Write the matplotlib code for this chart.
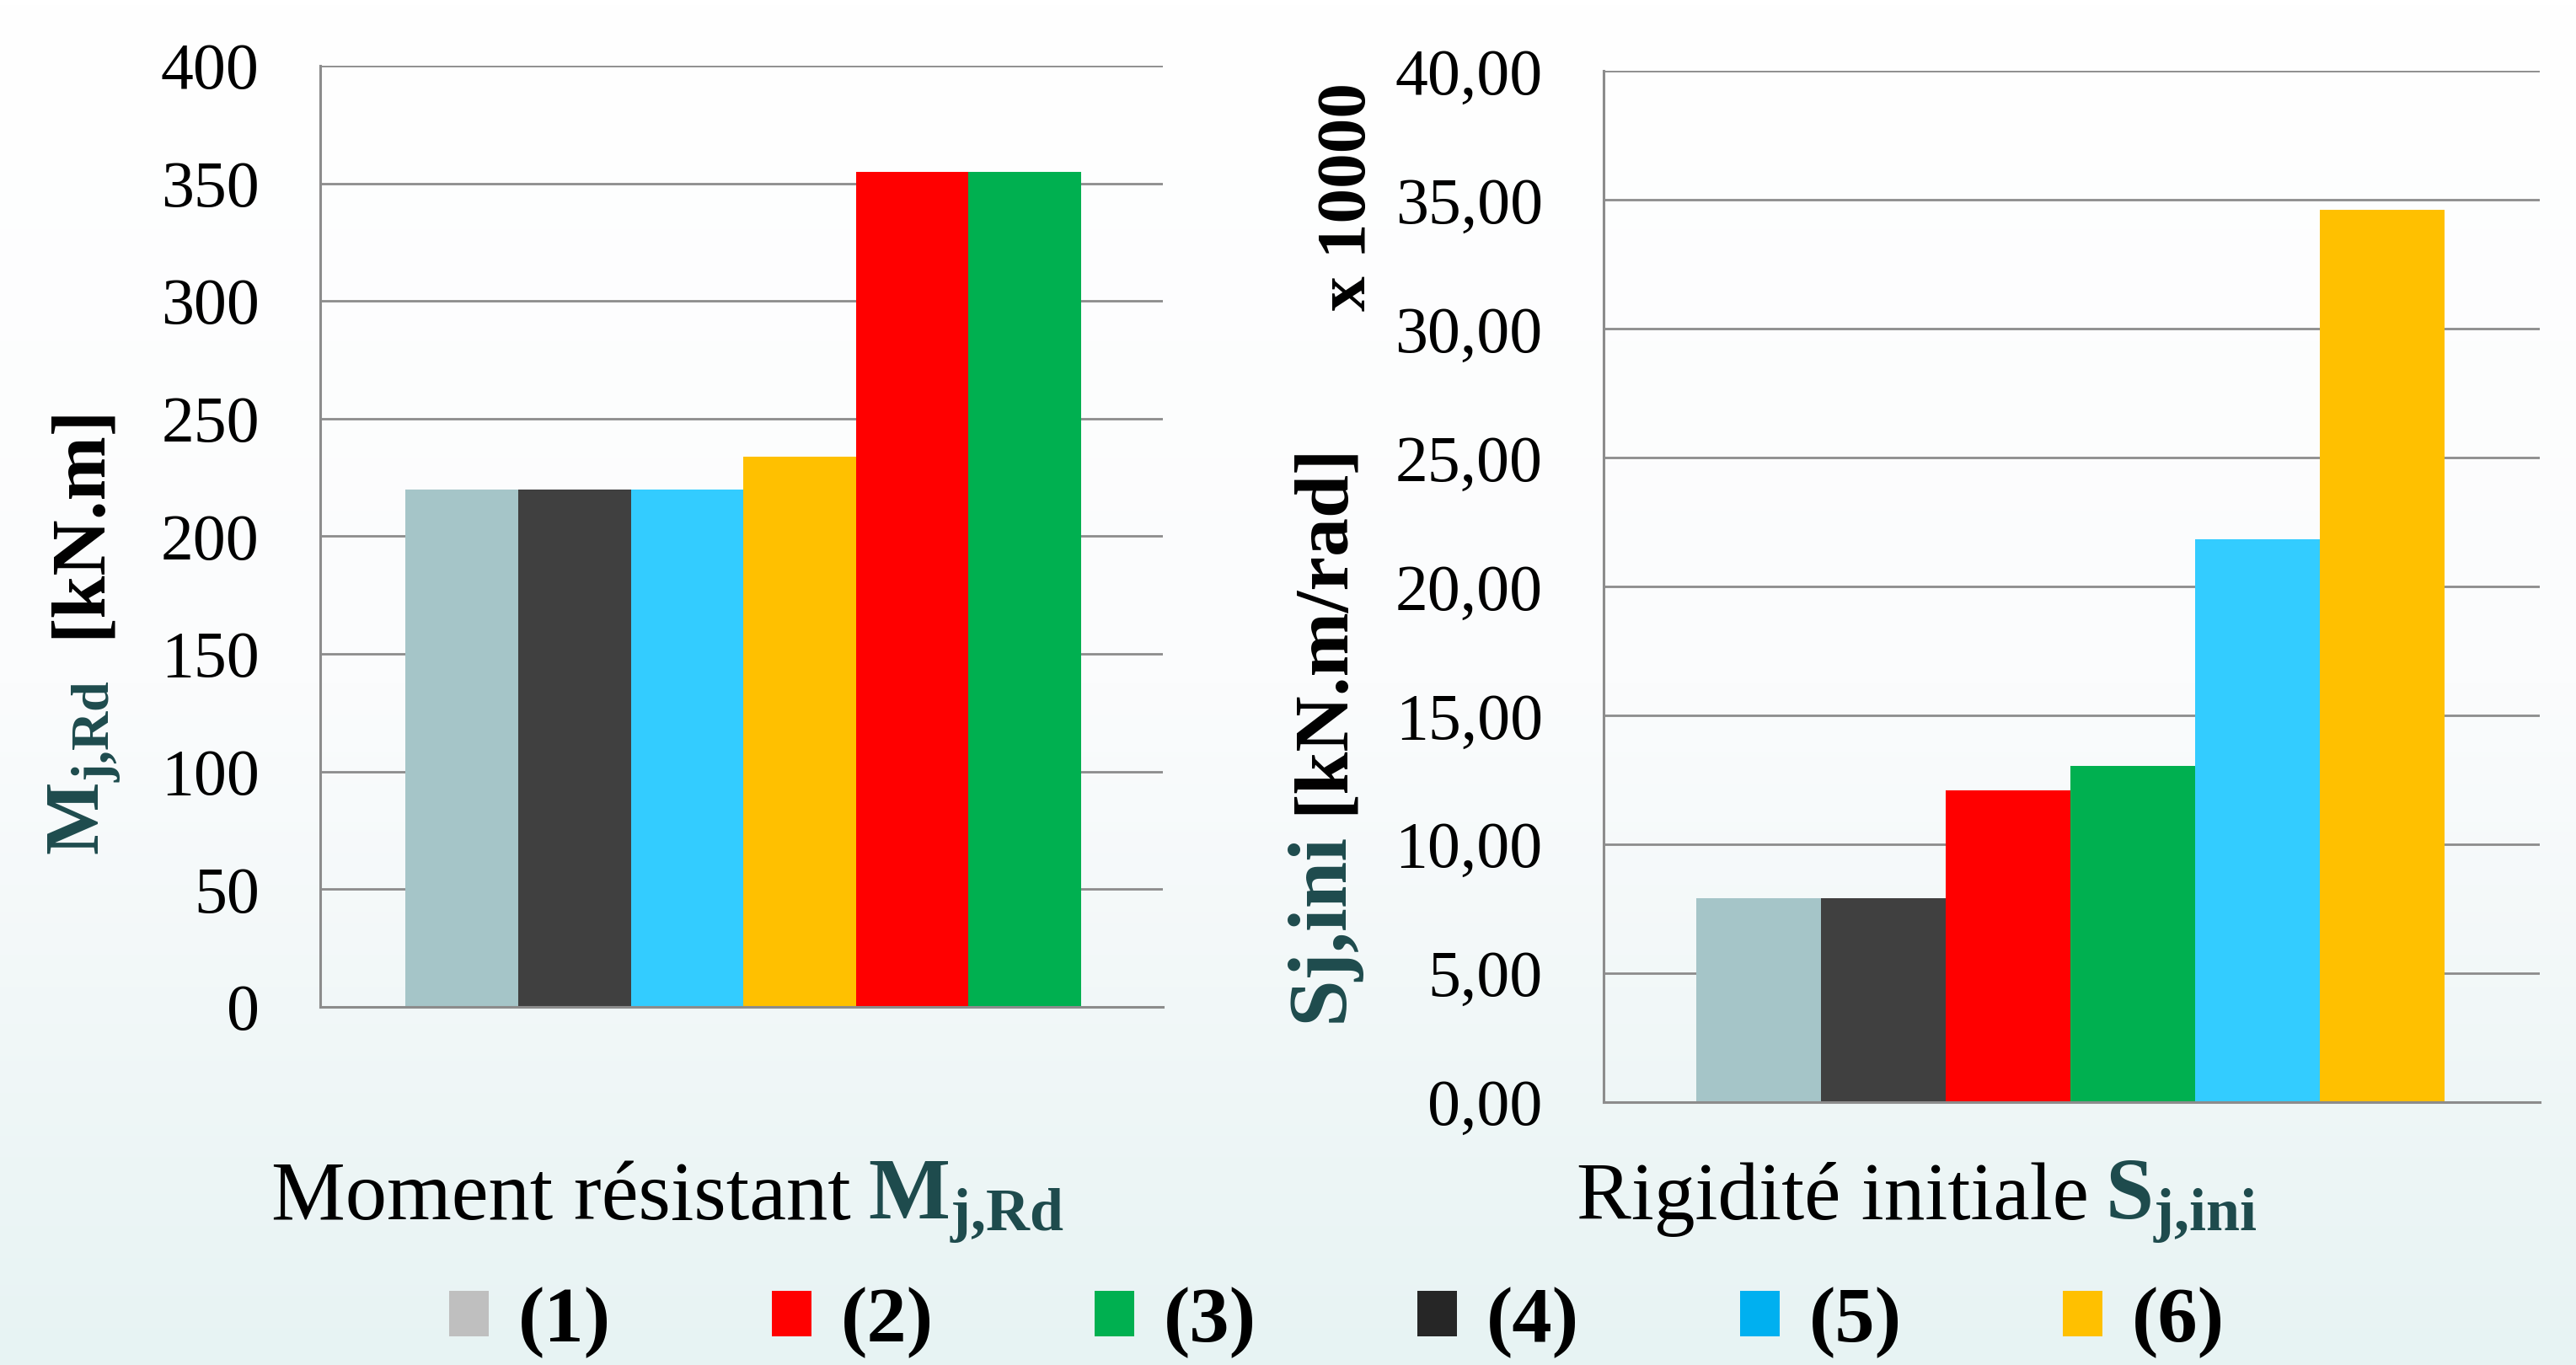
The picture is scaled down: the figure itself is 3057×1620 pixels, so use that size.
import matplotlib
matplotlib.use('Agg')
import matplotlib.pyplot as plt
import numpy as np
from matplotlib.patches import Patch
from matplotlib.colors import LinearSegmentedColormap

plt.rcParams['font.family'] = ['Liberation Serif', 'DejaVu Serif']
plt.rcParams['mathtext.fontset'] = 'custom'
plt.rcParams['mathtext.rm'] = 'Liberation Serif'
plt.rcParams['mathtext.bf'] = 'Liberation Serif:bold'
plt.rcParams['mathtext.it'] = 'Liberation Serif:italic'

# data
moment_labels = ['(1)', '(4)', '(5)', '(6)', '(2)', '(3)']
moment_values = [220, 220, 220, 234, 355, 355]
rig_labels = ['(1)', '(4)', '(2)', '(3)', '(5)', '(6)']
rig_values = [7.9, 7.9, 12.1, 13.05, 21.85, 34.6]
moment_ticks = [0, 50, 100, 150, 200, 250, 300, 350, 400]
rig_ticks = [0, 5, 10, 15, 20, 25, 30, 35, 40]

bar_colors = {'(1)': '#A5C5C8', '(2)': '#FF0000', '(3)': '#00B050',
              '(4)': '#404040', '(5)': '#33CCFF', '(6)': '#FFC000'}
legend_labels = ['(1)', '(2)', '(3)', '(4)', '(5)', '(6)']
legend_colors = ['#BFBFBF', '#FF0000', '#00B050', '#262626', '#00B0F0', '#FFC000']
teal = '#1E4B4D'
grid_c = '#8C8C8C'

fig = plt.figure(figsize=(30.57, 16.2), dpi=100)

# background gradient
bg = fig.add_axes([0, 0, 1, 1], zorder=-10)
cmap = LinearSegmentedColormap.from_list('bg', ['#FFFFFF', '#FBFCFD', '#E7F3F3'])
grad = np.linspace(0, 1, 256).reshape(-1, 1)
bg.imshow(grad, aspect='auto', cmap=cmap, extent=[0, 1, 0, 1], origin='upper')
bg.axis('off')


def style(ax, ticks, fmt):
    ax.set_facecolor('none')
    for s in ['top', 'right']:
        ax.spines[s].set_visible(False)
    for s in ['left', 'bottom']:
        ax.spines[s].set_color(grid_c)
        ax.spines[s].set_linewidth(2.2)
    ax.set_yticks(ticks)
    ax.set_yticklabels([fmt(t) for t in ticks])
    ax.set_ylim(ticks[0], ticks[-1])
    ax.yaxis.grid(True, color=grid_c, linewidth=2.0)
    ax.set_axisbelow(True)
    ax.tick_params(axis='y', length=0, pad=52, labelsize=56)
    ax.set_xticks([])


ax1 = fig.add_axes([0.1243, 0.2623, 0.3272, 0.6896])
x1 = np.arange(len(moment_values))
ax1.bar(x1, moment_values, width=1.0, color=[bar_colors[l] for l in moment_labels])
ax1.set_xlim(-1.26, 6.23)
style(ax1, moment_ticks, lambda t: str(t))

ax2 = fig.add_axes([0.6225, 0.1926, 0.3634, 0.7554])
x2 = np.arange(len(rig_values))
ax2.bar(x2, rig_values, width=1.0, color=[bar_colors[l] for l in rig_labels])
ax2.set_xlim(-1.24, 6.26)
style(ax2, rig_ticks, lambda t: f'{t:.2f}'.replace('.', ','))

# y labels (two-colour, rotated)
fig.text(0.0386, 0.502, r'$\mathbf{M_{j{,}Rd}}$', color=teal, fontsize=66,
         rotation=90, rotation_mode='anchor', ha='right', va='baseline')
fig.text(0.0386, 0.533, '[kN.m]', color='black', fontsize=66, fontweight='bold',
         rotation=90, rotation_mode='anchor', ha='left', va='baseline')

fig.text(0.521, 0.390, 'Sj,ini', color=teal, fontsize=72, fontweight='bold',
         rotation=90, rotation_mode='anchor', ha='right', va='baseline')
fig.text(0.521, 0.404, '[kN.m/rad]', color='black', fontsize=66, fontweight='bold',
         rotation=90, rotation_mode='anchor', ha='left', va='baseline')
fig.text(0.530, 0.856, 'x 10000', color='black', fontsize=60, fontweight='bold',
         rotation=90, rotation_mode='anchor', ha='center', va='baseline')

# x labels
fig.text(0.3304, 0.1068, 'Moment résistant', color='black', fontsize=71,
         ha='right', va='baseline')
fig.text(0.3369, 0.1068, r'$\mathbf{M_{j{,}Rd}}$', color=teal, fontsize=74,
         ha='left', va='baseline')
fig.text(0.8110, 0.1068, 'Rigidité initiale', color='black', fontsize=70,
         ha='right', va='baseline')
fig.text(0.8172, 0.1068, r'$\mathbf{S_{j{,}ini}}$', color=teal, fontsize=74,
         ha='left', va='baseline')

handles = [Patch(facecolor=c, edgecolor='none') for c in legend_colors]
leg = fig.legend(handles, legend_labels, loc='center', bbox_to_anchor=(0.519, 0.031),
                 ncol=6, frameon=False, prop={'weight': 'bold', 'size': 68},
                 handlelength=0.5, handleheight=0.5, handletextpad=0.37,
                 columnspacing=2.02)

fig.savefig('out.png', dpi=100)
